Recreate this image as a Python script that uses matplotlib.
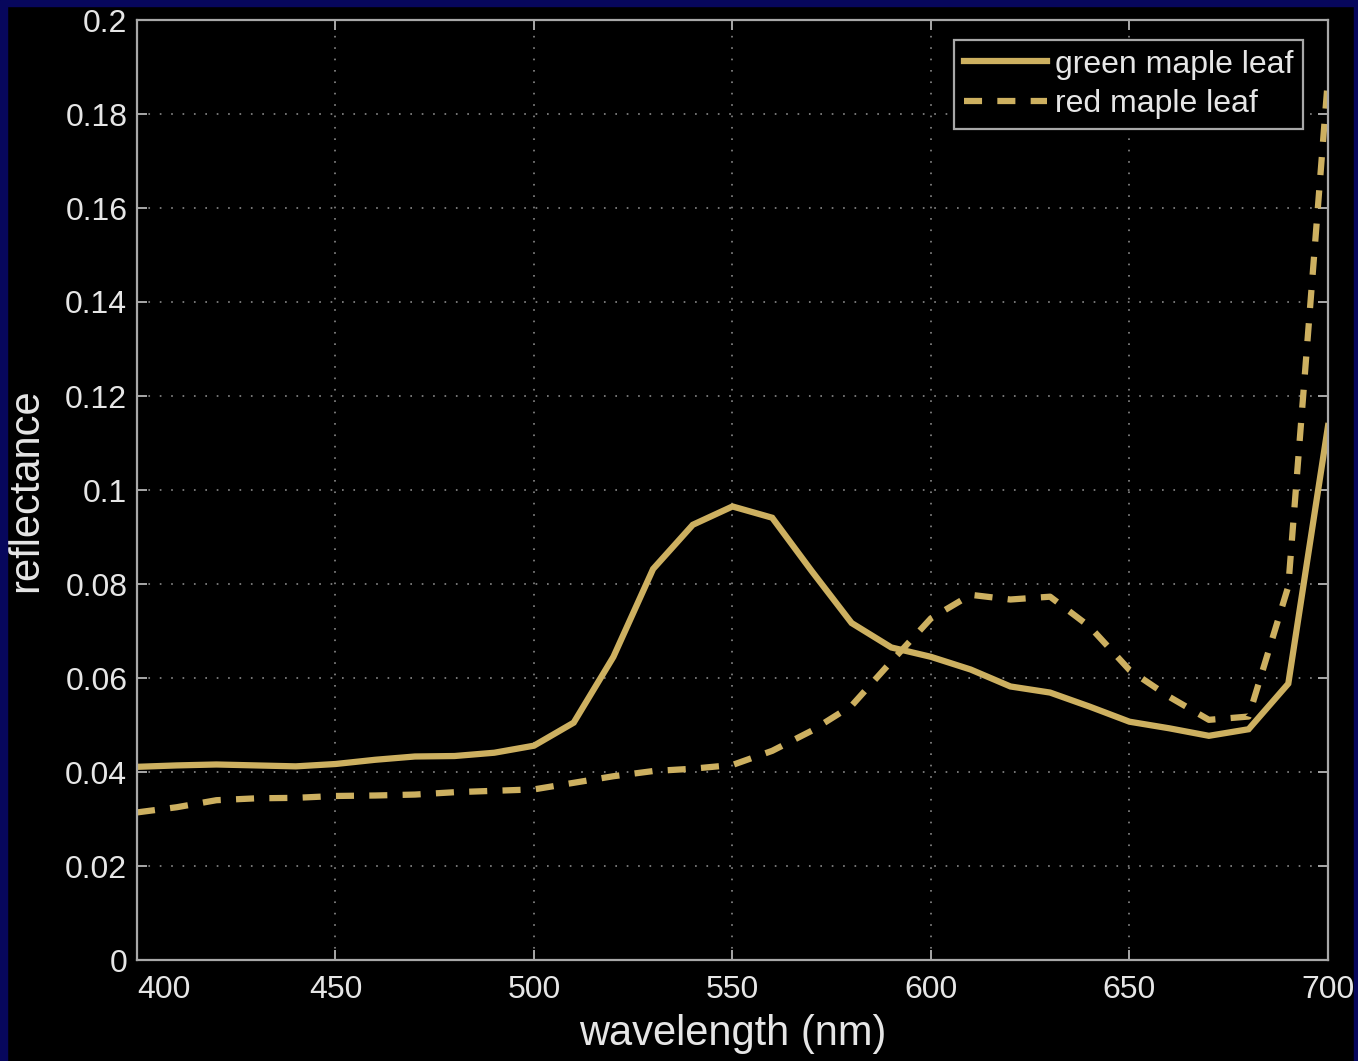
import matplotlib
matplotlib.use("Agg")
import matplotlib.pyplot as plt
from matplotlib.patches import Rectangle

# wavelengths (nm) and reflectance
wavelength = [400, 410, 420, 430, 440, 450, 460, 470, 480, 490,
              500, 510, 520, 530, 540, 550, 560, 570, 580, 590,
              600, 610, 620, 630, 640, 650, 660, 670, 680, 690, 700]
green_leaf = [0.0411, 0.0414, 0.0416, 0.0414, 0.0412, 0.0417, 0.0426, 0.0433, 0.0434, 0.0441,
              0.0456, 0.0505, 0.0645, 0.0832, 0.0926, 0.0965, 0.0941, 0.0827, 0.0717, 0.0665,
              0.0645, 0.0618, 0.0582, 0.0569, 0.0539, 0.0507, 0.0493, 0.0477, 0.0491, 0.0588, 0.1136]
red_leaf = [0.0314, 0.0325, 0.0340, 0.0344, 0.0345, 0.0349, 0.0350, 0.0352, 0.0357, 0.0360,
            0.0363, 0.0377, 0.0391, 0.0402, 0.0407, 0.0415, 0.0445, 0.0488, 0.0541, 0.0635,
            0.0727, 0.0777, 0.0767, 0.0773, 0.0709, 0.0617, 0.0560, 0.0511, 0.0518, 0.0795, 0.1877]

xticks = [400, 450, 500, 550, 600, 650, 700]
yticks = [0, 0.02, 0.04, 0.06, 0.08, 0.1, 0.12, 0.14, 0.16, 0.18, 0.2]
ytick_labels = ["0", "0.02", "0.04", "0.06", "0.08", "0.1", "0.12", "0.14", "0.16", "0.18", "0.2"]

plt.rcParams["font.family"] = ["Liberation Sans", "DejaVu Sans"]
plt.rcParams["lines.scale_dashes"] = False

gold = "#cdb060"
gray = "#a8a8a8"
navy = "#07075c"

fig = plt.figure(figsize=(13.58, 10.61), dpi=100, facecolor="black")

# navy frame around the slide
fig.patches.append(Rectangle((0, 0), 7 / 1358, 1, transform=fig.transFigure, color=navy, zorder=0))
fig.patches.append(Rectangle((0, 1 - 6 / 1061), 1, 6 / 1061, transform=fig.transFigure, color=navy, zorder=0))
fig.patches.append(Rectangle((1 - 4 / 1358, 0), 4 / 1358, 1, transform=fig.transFigure, color=navy, zorder=0))

ax = fig.add_axes([137 / 1358, 101 / 1061, 1191 / 1358, 940 / 1061])
ax.set_facecolor("black")

ax.plot(wavelength, green_leaf, color=gold, lw=4.5, solid_joinstyle="miter", label="green maple leaf")
ax.plot(wavelength, red_leaf, color=gold, lw=4.5, dashes=(13, 11), dash_capstyle="butt",
        label="red maple leaf")

ax.set_xlim(400, 700)
ax.set_ylim(0, 0.2)
ax.set_xticks(xticks)
ax.set_yticks(yticks)
ax.set_yticklabels(ytick_labels)
# first x label sits right of its tick, clear of the "0"
ax.get_xticklabels()[0].set_horizontalalignment("left")

ax.grid(True, color="#8a8a8a", lw=1.2, dashes=(1.2, 7))
ax.set_axisbelow(True)

for s in ax.spines.values():
    s.set_color(gray)
    s.set_linewidth(1.6)

ax.tick_params(axis="both", direction="in", length=7, width=1.4, color=gray,
               labelcolor="#e6e6e6", labelsize=23, top=True, right=True)
ax.tick_params(axis="x", pad=11)
ax.tick_params(axis="y", pad=7)

ax.set_xlabel("wavelength (nm)", fontsize=30, color="#e6e6e6", labelpad=6)
ax.set_ylabel("reflectance", fontsize=30, color="#e6e6e6", labelpad=14)

leg = ax.legend(loc="upper right", bbox_to_anchor=(1166 / 1191, 920 / 940), borderaxespad=0,
                fontsize=23, handlelength=2.6, handletextpad=0.25, labelspacing=0.3,
                borderpad=0.3, fancybox=False, framealpha=1)
leg.get_frame().set_facecolor("black")
leg.get_frame().set_edgecolor(gray)
leg.get_frame().set_linewidth(1.6)
for t in leg.get_texts():
    t.set_color("#e6e6e6")

fig.savefig("out.png", dpi=100, facecolor="black")
